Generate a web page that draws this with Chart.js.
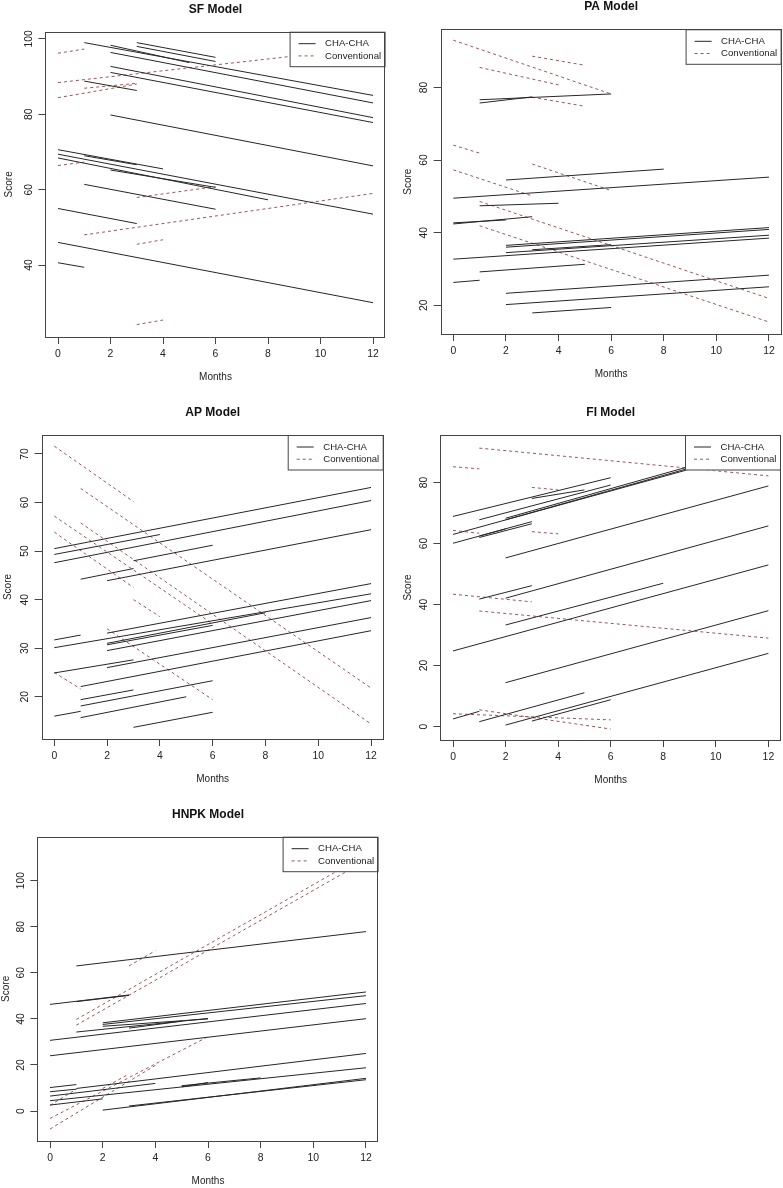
<!DOCTYPE html>
<html>
<head>
<meta charset="utf-8">
<script src="https://cdn.jsdelivr.net/npm/chart.js@4.4.1/dist/chart.umd.min.js"></script>
<style>
body { margin: 0; background: #fff; width: 783px; height: 1188px; position: relative; overflow: hidden; }
canvas { position: absolute; }
</style>
</head>
<body>
<canvas id="sf" width="391" height="400" style="left:0;top:0"></canvas>
<canvas id="pa" width="392" height="400" style="left:391px;top:0"></canvas>
<canvas id="ap" width="391" height="400" style="left:0;top:400px"></canvas>
<canvas id="fi" width="392" height="400" style="left:391px;top:400px"></canvas>
<canvas id="hnpk" width="391" height="388" style="left:0;top:800px"></canvas>
<script>
// each segment: [startMonth, startScore, endMonth, endScore]
const months = [0, 2, 4, 6, 8, 10, 12];

const sfTicks = [40, 60, 80, 100];
const sfCha = [
    [1, 99.0, 12, 85.0], [2, 96.4, 12, 83.0], [2, 98.3, 5, 93.7], [3, 99.0, 6, 95.1],
    [3, 98.0, 6, 94.0], [2, 92.7, 12, 79.1], [2, 91.1, 12, 77.8], [1, 88.8, 3, 86.3],
    [2, 79.8, 12, 66.3], [0, 70.6, 4, 65.5], [0, 69.4, 12, 53.5], [1, 69.0, 3, 66.6],
    [0, 68.4, 8, 57.3], [2, 65.2, 6, 60.6], [1, 61.4, 6, 54.8], [0, 55.0, 3, 51.0],
    [0, 46.0, 12, 30.0], [0, 40.6, 1, 39.4]
];
const sfConv = [
    [0, 96.2, 1, 97.3], [0, 88.4, 12, 97.8], [0, 84.4, 3, 88.0], [1, 86.9, 3, 88.2],
    [0, 66.4, 1, 67.3], [3, 57.9, 6, 60.8], [1, 48.0, 12, 59.0], [3, 45.5, 4, 46.7],
    [3, 24.2, 4, 25.4]
];

const paTicks = [20, 40, 60, 80];
const paCha = [
    [1, 76.6, 6, 78.2], [1, 75.7, 3, 77.4], [2, 54.5, 8, 57.5], [0, 49.5, 12, 55.3],
    [1, 47.4, 4, 48.1], [0, 42.4, 3, 44.4], [0, 42.7, 2, 43.5], [2, 36.5, 12, 41.4],
    [2, 36.0, 12, 40.9], [2, 34.5, 12, 39.3], [0, 32.7, 12, 38.5], [3, 35.3, 6, 36.7],
    [1, 29.2, 5, 31.3], [0, 26.3, 1, 26.9], [2, 23.3, 12, 28.3], [2, 20.2, 12, 25.1],
    [3, 17.9, 6, 19.4]
];
const paConv = [
    [0, 93.0, 6, 78.2], [1, 85.5, 4, 80.7], [3, 88.6, 5, 86.1], [3, 77.3, 5, 74.8],
    [0, 64.1, 1, 61.9], [0, 57.3, 3, 50.1], [1, 48.6, 12, 21.9], [1, 41.9, 12, 15.4],
    [3, 58.9, 6, 51.6]
];

const apTicks = [20, 30, 40, 50, 60, 70];
const apCha = [
    [0, 50.5, 12, 63.1], [0, 49.3, 4, 53.4], [0, 47.6, 12, 60.4], [1, 44.2, 3, 46.4],
    [3, 48.0, 6, 51.2], [2, 43.9, 12, 54.4], [0, 31.7, 1, 32.7], [0, 30.1, 12, 41.2],
    [2, 33.1, 12, 43.3], [2, 31.0, 8, 37.3], [2, 30.7, 6, 34.7], [2, 29.5, 12, 39.8],
    [0, 24.9, 3, 27.6], [2, 26.0, 12, 36.3], [1, 22.1, 12, 33.6], [1, 19.4, 3, 21.4],
    [1, 18.1, 6, 23.3], [1, 15.7, 5, 20.0], [0, 16.0, 1, 17.0], [3, 13.7, 6, 16.8]
];
const apConv = [
    [0, 71.6, 3, 60.2], [1, 62.9, 12, 21.8], [1, 55.8, 12, 14.4], [0, 57.2, 6, 35.0],
    [0, 53.9, 3, 42.5], [3, 40.0, 4, 36.5], [2, 34.0, 6, 19.4], [0, 25.0, 1, 21.6]
];

const fiTicks = [0, 20, 40, 60, 80];
const fiCha = [
    [0, 68.9, 6, 81.6], [1, 67.8, 6, 79.2], [0, 63.0, 12, 91.5], [0, 60.1, 2, 64.8],
    [1, 62.5, 3, 67.2], [1, 62.0, 3, 66.5], [2, 67.8, 12, 92.0], [2, 68.3, 12, 92.6],
    [3, 74.8, 5, 77.6], [2, 55.3, 12, 78.9], [1, 41.8, 3, 46.2], [2, 42.1, 12, 65.8],
    [0, 24.8, 12, 53.0], [2, 33.3, 8, 47.0], [2, 14.4, 12, 38.0], [0, 2.5, 1, 5.0],
    [1, 1.6, 5, 11.1], [2, 0.5, 12, 24.0], [3, 1.8, 6, 8.8]
];
const fiConv = [
    [1, 91.3, 12, 82.2], [0, 85.2, 1, 84.5], [3, 78.4, 4, 77.6], [0, 64.3, 1, 63.4],
    [3, 63.9, 4, 63.2], [0, 43.4, 3, 40.9], [1, 37.9, 12, 29.0], [0, 4.2, 6, 2.2],
    [1, 5.5, 6, -0.8]
];

const hnpkTicks = [0, 20, 40, 60, 80, 100];
const hnpkCha = [
    [1, 63.0, 12, 77.9], [0, 46.3, 3, 50.4], [1, 47.5, 3, 50.2], [2, 38.3, 12, 51.7],
    [2, 37.6, 12, 50.1], [0, 30.7, 12, 46.7], [0, 24.0, 12, 40.1], [1, 34.3, 6, 40.2],
    [2, 36.8, 6, 40.0], [3, 36.0, 5, 39.0], [0, 10.2, 1, 11.5], [1, 9.8, 12, 25.0],
    [0, 8.4, 1, 9.5], [0, 6.5, 4, 12.0], [0, 4.5, 12, 18.8], [0, 2.6, 2, 5.3],
    [2, 0.4, 12, 14.2], [3, 2.2, 12, 13.6], [5, 10.5, 6, 12.4], [5, 11.0, 8, 14.4]
];
const hnpkConv = [
    [1, 39.8, 12, 111.3], [1, 37.3, 12, 108.8], [3, 63.0, 4, 69.6], [0, -3.2, 6, 32.3],
    [0, -7.8, 4, 19.8], [0, 2.5, 1, 9.5], [2, 9.8, 3, 16.1]
];

const FONT = '"Liberation Sans", Arial, Helvetica, sans-serif';
Chart.defaults.font.family = FONT;

function toPoints(segs) {
    const pts = [];
    segs.forEach(s => {
        pts.push({ x: s[0], y: s[1] }, { x: s[2], y: s[3] }, { x: s[2], y: null });
    });
    return pts;
}

// R-style frame: box, title, rotated y labels, legend with white background
const rPanel = {
    id: 'rPanel',
    afterDatasetsDraw(chart) {
        const ctx = chart.ctx, a = chart.chartArea;
        const w = 96, h = 35.5, lx = a.right - w, ly = a.top;
        ctx.save();
        ctx.fillStyle = '#fff';
        ctx.fillRect(lx, ly, w, h);
        ctx.strokeStyle = '#444';
        ctx.lineWidth = 1;
        ctx.strokeRect(lx + 0.5, ly + 0.5, w - 1, h - 1);
        chart.data.datasets.forEach((ds, i) => {
            const y = ly + 12 + i * 12.2;
            ctx.strokeStyle = ds.borderColor;
            ctx.setLineDash(ds.borderDash || []);
            ctx.beginPath();
            ctx.moveTo(lx + 9, y);
            ctx.lineTo(lx + 26, y);
            ctx.stroke();
            ctx.setLineDash([]);
            ctx.fillStyle = '#222';
            ctx.font = '9.6px ' + FONT;
            ctx.textAlign = 'left';
            ctx.textBaseline = 'middle';
            ctx.fillText(ds.label, lx + 35.5, y);
        });
        ctx.restore();
    },
    afterDraw(chart, args, o) {
        const ctx = chart.ctx, a = chart.chartArea, ys = chart.scales.y;
        ctx.save();
        ctx.strokeStyle = '#444';
        ctx.lineWidth = 1;
        ctx.strokeRect(Math.round(a.left) + 0.5, Math.round(a.top) + 0.5,
            Math.round(a.right - a.left) - 1, Math.round(a.bottom - a.top));
        ctx.fillStyle = '#111';
        ctx.textAlign = 'center';
        ctx.textBaseline = 'middle';
        ctx.font = 'bold 12px ' + FONT;
        ctx.fillText(o.title, (a.left + a.right) / 2, a.top - 22.5);
        ctx.fillStyle = '#222';
        ctx.font = '10.4px ' + FONT;
        ys.ticks.forEach(t => {
            ctx.save();
            ctx.translate(a.left - 16.5, ys.getPixelForValue(t.value));
            ctx.rotate(-Math.PI / 2);
            ctx.fillText(String(t.value), 0, 0);
            ctx.restore();
        });
        ctx.font = '10px ' + FONT;
        ctx.translate(o.scoreX, (a.top + a.bottom) / 2);
        ctx.rotate(-Math.PI / 2);
        ctx.fillText('Score', 0, 0);
        ctx.restore();
    }
};

function makePanel(id, title, box, yMin, yMax, yTicks, cha, conv, scoreX) {
    const cv = document.getElementById(id);
    const W = cv.width, H = cv.height;
    const [L, T, R, B] = box;
    const xh = 46.5;
    return new Chart(cv.getContext('2d'), {
        type: 'line',
        data: {
            datasets: [{
                label: 'CHA-CHA',
                data: toPoints(cha),
                borderColor: '#262626',
                borderWidth: 1,
                pointRadius: 0,
                spanGaps: false,
                tension: 0
            }, {
                label: 'Conventional',
                data: toPoints(conv),
                borderColor: '#9c5553',
                borderWidth: 1,
                borderDash: [3, 3],
                pointRadius: 0,
                spanGaps: false,
                tension: 0
            }]
        },
        options: {
            responsive: false,
            animation: false,
            events: [],
            layout: { padding: { left: 0, top: T, right: W - R, bottom: H - B - xh } },
            scales: {
                x: {
                    type: 'linear',
                    min: -0.48,
                    max: 12.48,
                    afterBuildTicks: s => { s.ticks = months.map(v => ({ value: v })); },
                    afterFit: s => { s.height = xh; },
                    grid: { drawOnChartArea: false, drawTicks: true, tickLength: 7, color: '#444' },
                    border: { display: false },
                    ticks: { autoSkip: false, maxRotation: 0, padding: 4, color: '#222', font: { size: 10.4 } },
                    title: { display: true, text: 'Months', color: '#222', font: { size: 10 }, padding: { top: 0, bottom: 0 } }
                },
                y: {
                    type: 'linear',
                    min: yMin,
                    max: yMax,
                    afterBuildTicks: s => { s.ticks = yTicks.map(v => ({ value: v })); },
                    afterFit: s => { s.width = L; },
                    grid: { drawOnChartArea: false, drawTicks: true, tickLength: 7, color: '#444' },
                    border: { display: false },
                    ticks: { display: false }
                }
            },
            plugins: {
                legend: { display: false },
                tooltip: { enabled: false },
                rPanel: { title: title, scoreX: scoreX }
            }
        },
        plugins: [rPanel]
    });
}

makePanel('sf', 'SF Model', [45.4, 31.7, 385.6, 337], 20.9, 101.9, sfTicks, sfCha, sfConv, 9);
makePanel('pa', 'PA Model', [49.7, 29.3, 390.6, 334], 12.1, 96, paTicks, paCha, paConv, 17);
makePanel('ap', 'AP Model', [41.6, 35, 383.7, 339], 11.3, 73.9, apTicks, apCha, apConv, 8);
makePanel('fi', 'FI Model', [49.4, 35, 390, 340], -4.4, 95.6, fiTicks, fiCha, fiConv, 17);
makePanel('hnpk', 'HNPK Model', [37.4, 36.7, 378.6, 341], -13, 119.1, hnpkTicks, hnpkCha, hnpkConv, 6);
</script>
</body>
</html>
